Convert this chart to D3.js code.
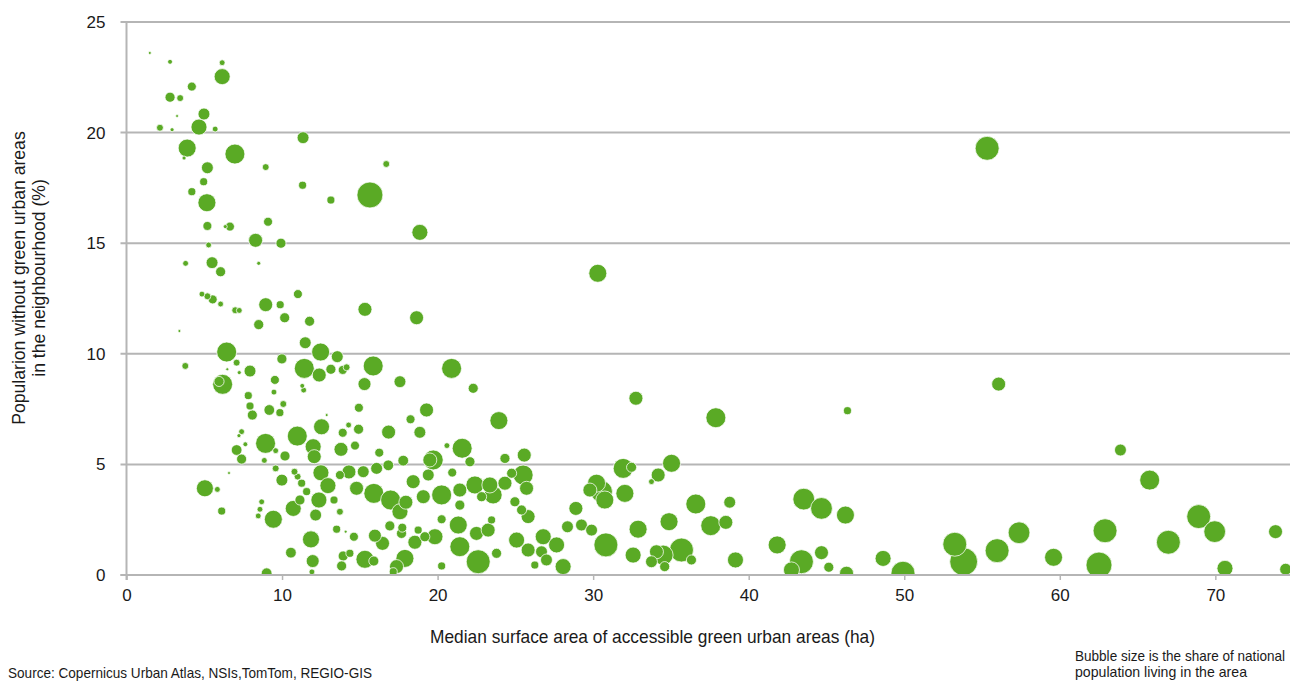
<!DOCTYPE html>
<html>
<head>
<meta charset="utf-8">
<script src="https://cdn.jsdelivr.net/npm/d3@7"></script>
<style>
  html, body { margin: 0; padding: 0; background: #fff; }
  svg { display: block; }
  .tick text { font-family: "Liberation Sans", Arial, sans-serif; font-size: 17px; fill: #1a1a1a; }
  .narrow { font-family: "Liberation Sans", Arial, sans-serif; fill: #1a1a1a; }
</style>
</head>
<body>
<svg id="chart" width="1290" height="681"></svg>
<script>
// Median surface area of accessible green urban areas (ha)
const greenArea = [
1.5,2.8,6.15,6.15,4.2,2.8,3.45,3.25,4.98,4.66,2.15,2.93,5.7,3.9,3.7,6.97,11.35,5.2,8.95,16.7,
4.96,4.2,11.32,5.17,13.14,15.65,5.2,6.65,6.35,9.1,8.3,9.93,5.28,18.86,3.8,5.5,8.5,6.05,4.85,5.2,
5.54,6.05,6.99,7.25,8.95,9.88,11.02,10.17,8.5,11.77,15.33,18.65,3.4,3.78,6.44,7.08,7.25,6.48,7.94,6.18,
5.95,9.99,11.43,11.49,12.48,13.55,12.39,13.14,13.9,14.15,15.86,15.3,17.58,9.54,9.48,11.39,11.3,7.83,7.94,8.09,
9.18,9.86,10.08,14.94,19.29,12.87,18.26,12.54,16.85,18.86,13.9,14.92,14.28,7.4,7.23,10.98,8.94,7.08,7.4,7.64,
12.0,12.07,10.19,9.59,8.86,13.79,14.69,16.25,17.79,16.83,19.5,9.59,6.59,5.04,5.84,9.99,6.12,9.44,8.69,8.58,
8.47,10.72,11.15,11.0,10.8,11.26,11.58,12.5,12.37,12.16,12.95,13.72,14.3,14.79,15.9,16.98,17.96,13.34,13.72,17.58,
16.93,13.51,14.09,14.62,15.97,16.46,17.73,18.54,19.18,11.86,10.57,11.97,11.92,9.01,13.93,13.83,14.36,15.33,15.9,17.36,
17.9,17.15,
20.9,22.29,23.94,20.6,21.58,19.72,20.94,24.33,25.57,25.5,24.76,24.33,25.72,22.4,23.36,23.57,21.43,20.26,18.43,19.08,
19.4,21.43,22.83,24.97,25.4,25.82,20.26,21.33,22.5,23.25,23.47,17.68,18.75,19.83,21.43,22.61,23.79,20.26,25.08,25.82,
26.79,27.65,26.68,28.07,26.25,22.08,15.22,16.08,
32.75,37.89,46.35,27.0,28.35,28.89,29.25,29.9,29.79,30.22,30.54,30.75,32.04,31.93,32.47,30.82,32.57,32.89,34.18,33.75,
35.04,34.88,33.75,34.07,34.5,35.68,36.32,34.6,36.6,38.78,37.56,38.53,39.15,41.83,43.54,44.68,46.22,43.39,42.75,44.68,
45.15,46.29,48.64,49.92,56.07,63.9,65.78,53.25,53.82,55.97,57.38,59.6,62.91,62.52,66.98,68.93,69.96,70.62,73.87,74.52,
55.33,30.3
];
// Population without green urban areas in the neighbourhood (%)
const noGreenShare = [
23.6,23.2,23.16,22.53,22.08,21.6,21.56,20.75,20.84,20.25,20.22,20.13,20.16,19.3,18.85,19.03,19.77,18.41,18.44,18.58,
17.78,17.33,17.62,16.83,16.95,17.18,15.78,15.75,15.75,15.97,15.13,15.0,14.92,15.49,14.09,14.12,14.09,13.71,12.7,12.6,
12.46,12.25,11.97,11.96,12.22,12.22,12.7,11.63,11.32,11.47,12.01,11.63,11.03,9.45,10.08,9.6,9.15,9.3,9.22,8.62,
8.75,9.77,9.34,10.5,10.08,9.87,9.04,9.3,9.27,9.39,9.45,8.63,8.74,8.82,8.27,8.36,8.55,8.11,7.64,7.23,
7.46,7.34,7.73,7.56,7.46,7.23,7.04,6.7,6.46,6.45,6.43,6.59,6.78,6.48,6.3,6.28,5.95,5.65,5.24,5.91,
5.8,5.35,5.38,5.62,5.18,5.68,5.85,5.53,5.17,4.96,5.2,4.82,4.61,3.92,3.87,4.29,2.89,2.52,3.31,2.97,
2.67,3.01,3.39,4.45,4.67,4.15,3.77,4.62,3.39,2.71,4.04,4.52,4.66,3.92,3.69,3.39,3.29,3.39,2.86,2.86,
2.22,2.07,1.96,1.73,1.78,1.43,2.14,1.48,1.73,1.61,1.01,0.63,0.14,0.08,0.86,0.41,0.98,0.71,0.63,0.38,
0.75,0.15,
9.34,8.44,6.98,5.85,5.73,5.2,4.63,5.27,5.42,4.52,4.6,4.15,3.92,4.07,4.07,3.62,3.84,3.62,4.22,3.54,
4.52,3.16,3.54,3.31,2.94,2.64,2.52,2.26,1.88,2.03,2.49,1.88,2.03,1.73,1.28,0.6,0.98,0.41,1.58,1.13,
1.73,1.36,1.05,0.38,0.45,5.12,4.67,4.82,
7.99,7.11,7.43,0.68,2.18,3.01,2.26,2.03,3.84,4.15,3.77,3.39,3.69,4.82,4.87,1.36,0.9,2.07,4.52,4.22,
5.05,2.41,0.6,1.05,0.9,1.13,0.68,0.38,3.21,3.29,2.23,2.38,0.68,1.36,3.43,3.01,2.71,0.6,0.23,1.01,
0.35,0.08,0.75,0.08,8.63,5.65,4.29,1.39,0.6,1.1,1.91,0.8,2.0,0.45,1.48,2.64,1.96,0.3,1.96,0.26,
19.29,13.64
];
// Bubble size: share of national population living in the area (%)
const popShare = [
0.013,0.035,0.05,0.38,0.12,0.15,0.07,0.013,0.21,0.38,0.07,0.024,0.05,0.48,0.024,0.59,0.21,0.21,0.07,0.07,
0.095,0.095,0.095,0.48,0.095,1.0,0.12,0.12,0.024,0.12,0.29,0.15,0.05,0.38,0.05,0.21,0.024,0.15,0.05,0.07,
0.12,0.05,0.07,0.05,0.29,0.095,0.12,0.15,0.15,0.15,0.29,0.29,0.013,0.07,0.59,0.07,0.024,0.013,0.21,0.59,
0.15,0.15,0.59,0.21,0.48,0.21,0.29,0.15,0.12,0.07,0.59,0.25,0.21,0.12,0.05,0.05,0.035,0.095,0.095,0.15,
0.17,0.095,0.07,0.12,0.29,0.013,0.12,0.38,0.29,0.21,0.12,0.15,0.05,0.05,0.024,0.59,0.59,0.17,0.15,0.035,
0.38,0.29,0.15,0.05,0.05,0.29,0.12,0.12,0.17,0.17,0.29,0.07,0.013,0.43,0.05,0.21,0.095,0.48,0.05,0.05,
0.05,0.38,0.15,0.07,0.07,0.095,0.095,0.38,0.38,0.21,0.38,0.12,0.29,0.29,0.59,0.59,0.29,0.095,0.07,0.38,
0.15,0.095,0.013,0.12,0.25,0.29,0.12,0.29,0.15,0.43,0.17,0.25,0.05,0.17,0.15,0.15,0.095,0.48,0.15,0.29,
0.48,0.095,
0.59,0.15,0.48,0.05,0.59,0.59,0.12,0.15,0.29,0.59,0.15,0.29,0.29,0.48,0.38,0.48,0.29,0.59,0.29,0.29,
0.21,0.15,0.15,0.15,0.15,0.29,0.12,0.48,0.29,0.29,0.095,0.15,0.095,0.38,0.59,0.85,0.15,0.095,0.38,0.29,
0.38,0.38,0.21,0.38,0.095,0.15,0.21,0.21,
0.29,0.59,0.095,0.21,0.21,0.29,0.21,0.21,0.29,0.48,0.7,0.48,0.48,0.59,0.15,0.85,0.38,0.48,0.29,0.05,
0.48,0.48,0.21,0.29,0.59,0.85,0.15,0.15,0.59,0.21,0.59,0.29,0.38,0.48,0.7,0.7,0.48,0.85,0.38,0.29,
0.15,0.29,0.38,0.85,0.29,0.21,0.59,0.85,1.15,0.85,0.7,0.48,0.85,1.0,0.85,0.85,0.7,0.38,0.29,0.21,
0.85,0.48
];
const xTicks = [0, 10, 20, 30, 40, 50, 60, 70];
const yTicks = [0, 5, 10, 15, 20, 25];
const xTitle = "Median surface area of accessible green urban areas (ha)";
const yTitleLines = ["Popularion without green urban areas", "in the neighbourhood (%)"];
const sourceText = "Source: Copernicus Urban Atlas, NSIs,TomTom, REGIO-GIS";
const noteLines = ["Bubble size is the share of national", "population living in the area"];

const plotLeft = 126.5, plotRight = 1290, plotTop = 22, plotBottom = 575;
const svg = d3.select("#chart");

const x = d3.scaleLinear().domain([0, 74.8]).range([plotLeft, plotRight]);
const y = d3.scaleLinear().domain([0, 25]).range([plotBottom, plotTop]);
const r = d3.scaleSqrt().domain([0, 1]).range([0, 13]);

// gridlines
svg.append("g")
  .selectAll("line").data(yTicks).join("line")
  .attr("x1", plotLeft - 6).attr("x2", plotRight)
  .attr("y1", d => y(d)).attr("y2", d => y(d))
  .attr("stroke", "#b5b5b5").attr("stroke-width", 2);

// y axis line
svg.append("line")
  .attr("x1", plotLeft).attr("x2", plotLeft).attr("y1", y(25)).attr("y2", plotBottom + 5)
  .attr("stroke", "#b5b5b5").attr("stroke-width", 2);

// bubbles
svg.append("clipPath").attr("id", "plotclip")
  .append("rect").attr("x", plotLeft).attr("y", 0).attr("width", plotRight - plotLeft).attr("height", plotBottom - 1);

const pts = greenArea.map((g, i) => ({ g, v: noGreenShare[i], s: popShare[i] }))
  .sort((a, b) => b.s - a.s);

svg.append("g").attr("clip-path", "url(#plotclip)")
  .selectAll("circle").data(pts).join("circle")
  .attr("cx", d => x(d.g)).attr("cy", d => y(d.v)).attr("r", d => r(d.s))
  .attr("fill", "#5aaa25")
  .attr("stroke", "rgba(255,255,255,0.75)").attr("stroke-width", 1);

// bottom axis line on top
svg.append("line")
  .attr("x1", plotLeft - 6).attr("x2", plotRight).attr("y1", plotBottom).attr("y2", plotBottom)
  .attr("stroke", "#b5b5b5").attr("stroke-width", 2);

// x axis ticks
const xAxis = d3.axisBottom(x).tickValues(xTicks).tickSize(5).tickPadding(9);
const gx = svg.append("g").attr("transform", `translate(0,${plotBottom})`).call(xAxis);
gx.select(".domain").remove();
gx.selectAll(".tick line").attr("stroke", "#b5b5b5").attr("stroke-width", 1.5);

// y axis labels
const yAxis = d3.axisLeft(y).tickValues(yTicks).tickSize(0).tickPadding(21);
const gy = svg.append("g").attr("transform", `translate(${plotLeft},0)`).call(yAxis);
gy.select(".domain").remove();

// x title (condensed face emulated by fitting the text to its measured width)
svg.append("text").attr("class", "narrow")
  .attr("x", 430).attr("y", 643)
  .attr("textLength", 445).attr("lengthAdjust", "spacingAndGlyphs")
  .style("font-size", "19px").text(xTitle);

// y title
const yt = svg.append("text")
  .attr("transform", `translate(25,${278}) rotate(-90)`)
  .attr("text-anchor", "middle")
  .style("font-family", "'Liberation Sans', Arial, sans-serif")
  .style("font-size", "17.6px").style("fill", "#1a1a1a");
yt.selectAll("tspan").data(yTitleLines).join("tspan")
  .attr("x", 0).attr("dy", (d, i) => i === 0 ? 0 : 20).text(d => d);

// source
svg.append("text").attr("class", "narrow")
  .attr("x", 8).attr("y", 678)
  .attr("textLength", 364).attr("lengthAdjust", "spacingAndGlyphs")
  .style("font-size", "15px").text(sourceText);

// note (small font stretched vertically to mimic the condensed face)
const noteWidths = [210, 172];
noteLines.forEach((t, i) => {
  svg.append("text").attr("class", "narrow")
    .attr("transform", `translate(1075,${661 + i * 16}) scale(1,1.2)`)
    .attr("x", 0).attr("y", 0)
    .attr("textLength", noteWidths[i]).attr("lengthAdjust", "spacingAndGlyphs")
    .style("font-size", "12px").text(t);
});
</script>
</body>
</html>
